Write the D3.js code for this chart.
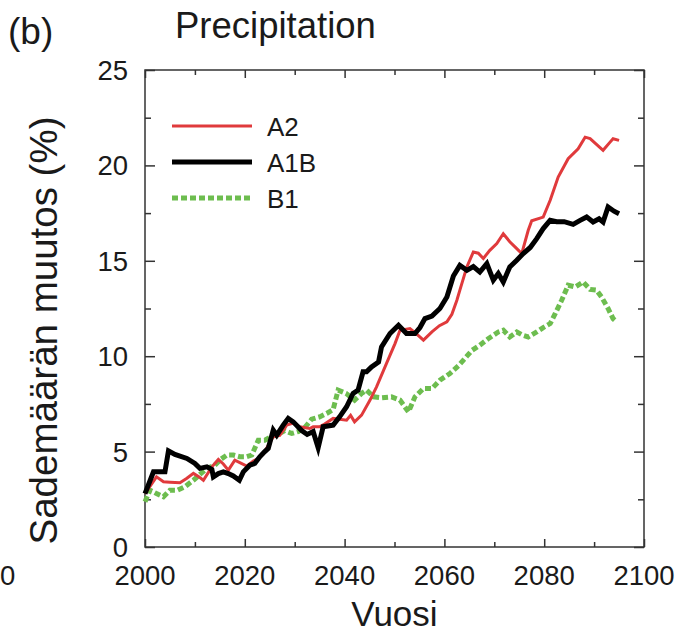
<!DOCTYPE html>
<html>
<head>
<meta charset="utf-8">
<script src="https://cdn.jsdelivr.net/npm/d3@7"></script>
<style>
  html, body { margin: 0; padding: 0; background: #fff; }
  svg { display: block; }
  text { font-family: "Liberation Sans", Arial, Helvetica, sans-serif; fill: #1a1a1a; }
</style>
</head>
<body>
<svg id="chart" width="684" height="635"></svg>
<script>
// Precipitation change scenarios (% change relative to 2000)
const yearsA2 = [2000, 2002.3, 2003.7, 2005, 2007, 2008.4, 2009.7, 2010.7, 2011.7, 2013.4, 2014.7, 2015.7, 2016.7, 2018, 2019.2, 2020.4, 2021.7, 2022.7, 2023.8, 2024.7, 2025.7, 2027, 2028.4, 2029.7, 2031, 2033, 2033.7, 2035, 2035.7, 2037.7, 2039, 2040.4, 2041.2, 2042, 2043.4, 2045.1, 2046.4, 2048.4, 2050.1, 2051.1, 2053.1, 2054.3, 2055.8, 2057.5, 2059, 2060.5, 2061.5, 2062.5, 2063.1, 2064.5, 2065.8, 2066.8, 2067.8, 2069.1, 2070.5, 2071.8, 2073.1, 2074.5, 2075.5, 2076.8, 2077.5, 2079.8, 2081.2, 2082.8, 2084.8, 2086.8, 2088.2, 2089.2, 2091.8, 2093.2, 2093.8, 2095];
const valuesA2 = [2.8, 3.68, 3.42, 3.4, 3.37, 3.6, 3.86, 3.7, 3.5, 4.2, 4.59, 4.35, 4.03, 4.55, 4.4, 4.24, 4.5, 4.64, 4.9, 5.34, 5.78, 5.85, 6.39, 6.5, 6.3, 6.21, 6.3, 6.3, 6.4, 6.74, 6.7, 6.65, 6.9, 6.56, 6.91, 7.7, 8.39, 9.62, 10.66, 11.36, 11.45, 11.2, 10.84, 11.27, 11.6, 11.8, 12.2, 12.93, 13.46, 14.68, 15.46, 15.4, 15.12, 15.55, 15.9, 16.42, 16.0, 15.64, 15.38, 16.6, 17.1, 17.29, 18.17, 19.39, 20.35, 20.87, 21.48, 21.4, 20.79, 21.22, 21.4, 21.31];

const yearsA1B = [2000, 2001.7, 2004, 2004.7, 2006, 2008.4, 2010, 2011, 2012.4, 2013.4, 2013.7, 2014.7, 2015.7, 2016.7, 2017.7, 2018.9, 2019.7, 2021, 2022, 2023, 2024, 2024.7, 2025.7, 2026.4, 2027.7, 2028.7, 2029.7, 2031.4, 2032.5, 2033.7, 2034.7, 2035.7, 2037.7, 2039, 2040.4, 2041.7, 2042.7, 2043.7, 2044.4, 2045.4, 2046.8, 2047.4, 2049.1, 2050.8, 2052.4, 2054.1, 2055.1, 2056.1, 2057.5, 2059.1, 2060.5, 2061.8, 2063.1, 2064.5, 2065.8, 2067.1, 2068.5, 2069.8, 2070.8, 2071.8, 2073.1, 2074.5, 2075.8, 2077.2, 2078.5, 2079.8, 2081.2, 2082.5, 2084, 2085.8, 2087.2, 2088.5, 2089.8, 2091, 2091.8, 2092.8, 2094, 2095];
const valuesA1B = [2.8, 3.94, 3.94, 5.04, 4.85, 4.64, 4.38, 4.12, 4.2, 4.07, 3.68, 3.85, 3.94, 3.85, 3.72, 3.5, 3.94, 4.29, 4.38, 4.73, 5.0, 5.17, 6.13, 5.86, 6.39, 6.74, 6.56, 6.1, 5.9, 6.05, 5.2, 6.3, 6.39, 6.82, 7.35, 8.05, 8.22, 9.18, 9.18, 9.44, 9.7, 10.49, 11.19, 11.62, 11.19, 11.19, 11.5, 11.97, 12.1, 12.5, 13.1, 14.2, 14.76, 14.5, 14.7, 14.41, 14.85, 13.98, 14.33, 13.89, 14.68, 15.03, 15.38, 15.7, 16.16, 16.69, 17.12, 17.05, 17.05, 16.91, 17.12, 17.3, 17.03, 17.2, 17.03, 17.82, 17.6, 17.47];

const yearsB1 = [2000, 2001, 2002.3, 2003.7, 2005, 2006.5, 2008, 2009.7, 2011, 2012.4, 2014, 2015.2, 2016.4, 2017.7, 2019, 2020.3, 2021.4, 2022.7, 2024, 2025.4, 2026.7, 2028, 2029.4, 2030.7, 2032, 2033.4, 2035, 2036.4, 2037.7, 2038.7, 2040.3, 2042, 2043.4, 2044.4, 2045.8, 2047.4, 2049.4, 2051.1, 2052.8, 2054.1, 2055.8, 2057.5, 2059.1, 2061.1, 2062.8, 2064.5, 2065.5, 2067.1, 2068.7, 2070.8, 2071.8, 2073.1, 2074.5, 2075.7, 2076.8, 2078.5, 2079.8, 2081.2, 2082.2, 2083.5, 2084.8, 2086.2, 2087.8, 2089.2, 2090.5, 2091.5, 2092.8, 2093.8, 2094.5];
const valuesB1 = [2.37, 2.98, 2.8, 2.63, 2.98, 2.98, 3.16, 3.5, 3.8, 4.12, 4.29, 4.6, 4.82, 4.82, 4.73, 4.73, 4.82, 5.6, 5.6, 5.8, 5.9, 6.1, 5.95, 6.05, 6.25, 6.7, 6.82, 7.0, 7.2, 8.22, 8.05, 7.7, 8.05, 8.22, 7.87, 7.82, 7.87, 7.7, 7.08, 7.87, 8.31, 8.3, 8.74, 9.09, 9.5, 10.0, 10.3, 10.58, 10.9, 11.27, 11.36, 11.01, 11.27, 11.1, 11.01, 11.27, 11.5, 11.71, 12.23, 12.93, 13.72, 13.63, 13.89, 13.5, 13.46, 13.1, 12.5, 11.97, 11.8];

const seriesNames = ["A2", "A1B", "B1"];
const xTickValues = [2000, 2020, 2040, 2060, 2080, 2100];
const xMinorTicks = [2010, 2030, 2050, 2070, 2090];
const yTickValues = [0, 5, 10, 15, 20, 25];
const yMinorTicks = [2.5, 7.5, 12.5, 17.5, 22.5];

const panelLabel = "(b)";
const titleText = "Precipitation";
const xLabel = "Vuosi";
const yLabel = "Sademäärän muutos (%)";
const edgeDigit = "0";

const styles = {
  A2:  { color: "#e03a3c", width: 3,   dash: null },
  A1B: { color: "#000000", width: 5,   dash: null },
  B1:  { color: "#6dbd4f", width: 5,   dash: "6,3" }
};

const svg = d3.select("#chart");
const margin = { left: 145, right: 40, top: 70, bottom: 88 };
const W = 684, H = 635;

const x = d3.scaleLinear().domain([2000, 2100]).range([margin.left, W - margin.right]);
const y = d3.scaleLinear().domain([0, 25]).range([H - margin.bottom, margin.top]);

const axisColor = "#333";

// Frame
svg.append("rect")
  .attr("x", x(2000)).attr("y", y(25))
  .attr("width", x(2100) - x(2000)).attr("height", y(0) - y(25))
  .attr("fill", "none").attr("stroke", axisColor).attr("stroke-width", 1.5);

// Inward ticks on all four sides
function ticks(sel, axisGen, tickVals, size) {
  sel.call(axisGen.tickValues(tickVals).tickSize(size).tickFormat(""));
  sel.select(".domain").remove();
  sel.selectAll(".tick line").attr("stroke", axisColor).attr("stroke-width", 1.5);
}
const bottomY = y(0), topY = y(25), leftX = x(2000), rightX = x(2100);
ticks(svg.append("g").attr("transform", `translate(0,${bottomY})`), d3.axisTop(x), xTickValues, 8);
ticks(svg.append("g").attr("transform", `translate(0,${bottomY})`), d3.axisTop(x), xMinorTicks, 5);
ticks(svg.append("g").attr("transform", `translate(0,${topY})`), d3.axisBottom(x), xTickValues, 8);
ticks(svg.append("g").attr("transform", `translate(0,${topY})`), d3.axisBottom(x), xMinorTicks, 5);
ticks(svg.append("g").attr("transform", `translate(${leftX},0)`), d3.axisRight(y), yTickValues, 10);
ticks(svg.append("g").attr("transform", `translate(${leftX},0)`), d3.axisRight(y), yMinorTicks, 6);
ticks(svg.append("g").attr("transform", `translate(${rightX},0)`), d3.axisLeft(y), yTickValues, 10);
ticks(svg.append("g").attr("transform", `translate(${rightX},0)`), d3.axisLeft(y), yMinorTicks, 6);

// Tick labels
svg.append("g").selectAll("text").data(xTickValues).join("text")
  .attr("x", d => x(d)).attr("y", bottomY + 38)
  .attr("text-anchor", "middle").attr("font-size", 27.5)
  .text(d => d);
svg.append("g").selectAll("text").data(yTickValues).join("text")
  .attr("x", leftX - 17).attr("y", d => y(d) + 10)
  .attr("text-anchor", "end").attr("font-size", 27.5)
  .text(d => d);

// Trailing digit of the neighbouring panel's axis label at the left edge
svg.append("text").attr("x", 0).attr("y", bottomY + 38)
  .attr("font-size", 27.5).text(edgeDigit);

// Series lines
const line = d3.line().x(d => x(d[0])).y(d => y(d[1]));
const seriesData = {
  A2: d3.zip(yearsA2, valuesA2),
  A1B: d3.zip(yearsA1B, valuesA1B),
  B1: d3.zip(yearsB1, valuesB1)
};
["B1", "A2", "A1B"].forEach(name => {
  const s = styles[name];
  svg.append("path").datum(seriesData[name])
    .attr("d", line)
    .attr("fill", "none")
    .attr("stroke", s.color)
    .attr("stroke-width", s.width)
    .attr("stroke-linejoin", "miter")
    .attr("stroke-dasharray", s.dash);
});

// Legend
const legend = svg.append("g");
seriesNames.forEach((name, i) => {
  const s = styles[name];
  const ly = 126 + i * 36;
  legend.append("line")
    .attr("x1", 172).attr("x2", 252).attr("y1", ly).attr("y2", ly)
    .attr("stroke", s.color).attr("stroke-width", s.width)
    .attr("stroke-dasharray", s.dash);
  legend.append("text")
    .attr("x", 267).attr("y", ly + 9.5)
    .attr("font-size", 26).text(name);
});

// Titles
svg.append("text").attr("x", 8).attr("y", 44).attr("font-size", 37).text(panelLabel);
svg.append("text").attr("x", 175).attr("y", 38).attr("font-size", 36.5).text(titleText);
svg.append("text").attr("x", x(2050)).attr("y", 626)
  .attr("text-anchor", "middle").attr("font-size", 35).text(xLabel);
svg.append("text")
  .attr("transform", `translate(57,${(y(0) + y(25)) / 2 + 22}) rotate(-90)`)
  .attr("text-anchor", "middle").attr("font-size", 38.5).text(yLabel);
</script>
</body>
</html>
